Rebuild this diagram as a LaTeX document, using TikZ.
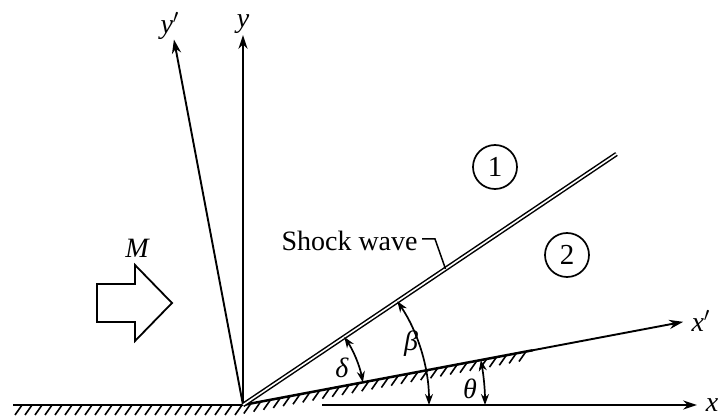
\documentclass[tikz,border=0pt]{standalone}
\usepackage{fontspec}
\setmainfont{Liberation Serif}
\usetikzlibrary{arrows.meta,calc}
\begin{document}
\begin{tikzpicture}[x=0.5pt,y=0.5pt,
  axis/.style={line width=0.95pt,-{Stealth[length=7pt,width=4.6pt]}},
  angarrow/.style={line width=0.85pt,{Stealth[length=5.5pt,width=4pt]}-{Stealth[length=5.5pt,width=4pt]}},
  ground/.style={line width=1.25pt},
  hatch/.style={line width=0.8pt},
  lbl/.style={font=\fontsize{14}{16}\selectfont\itshape, inner sep=0pt},
  num/.style={circle, draw, line width=0.85pt, minimum size=22pt, inner sep=0pt, font=\fontsize{14.5}{16}\selectfont},
  shock/.style={draw=black, double=white, line width=0.75pt, double distance=0.8pt},
  txt/.style={font=\fontsize{14}{16}\selectfont, inner sep=0pt}
]
\useasboundingbox (0,0) rectangle (719,418);
\coordinate (O) at (243,13);
% ground left
\coordinate (GL) at (13,13);
\draw[ground] (GL) -- (O);
\foreach \i in {0,...,22} \draw[hatch] (22+10*\i,13) -- ++(-7,-10);
% wedge
\coordinate (WE) at ($(O)+(10.7:295)$);
\draw[ground] (O) -- (WE);
\foreach \s in {8,18,...,290} \draw[hatch] ($(O)+(10.7:\s)$) -- ++(-7,-10);
% axes
\coordinate (XS) at (322,13);
\coordinate (XE) at (697,13);
\draw[axis] (XS) -- (XE);
\node[lbl] (xl) at (712,13) {x};
\coordinate (XPE) at ($(O)+(10.7:448)$);
\draw[axis] (WE) -- (XPE);
\node[lbl] (xpl) at (701,97) {x$'$};
\coordinate (YE) at (243,383);
\draw[axis] (O) -- (YE);
\node[lbl] (yl) at (243,394) {y};
\coordinate (YPE) at ($(O)+(100.7:372)$);
\draw[axis] (O) -- (YPE);
\node[lbl] (ypl) at (170,392) {y$'$};
% shock
\coordinate (SE) at ($(O)+(33.9:450)$);
\draw[shock] (O) -- (SE);
\coordinate (SP) at ($(O)+(33.9:244)$);
\node[txt, anchor=base east] (sw) at (418,167) {Shock wave};
\coordinate (L1) at (422,179);
\coordinate (L2) at (435,179);
\draw[line width=0.75pt] (L1) -- (L2) -- (SP);
% regions
\node[num] (r1) at (495,251) {1};
\node[num] (r2) at (567,163) {2};
% flow arrow
\draw[line width=0.9pt] (97,134) -- (135,134) -- (135,153) -- (172,115) -- (135,77) -- (135,96) -- (97,96) -- cycle;
\node[lbl] (ml) at (137,170) {M};
% angles
\draw[angarrow] ($(O)+(10.7:122)$) arc[start angle=10.7, end angle=33.9, radius=61pt];
\node[lbl] (dl) at (342,50) {δ};
\draw[angarrow] ($(O)+(0:186)$) arc[start angle=0, end angle=33.9, radius=93pt];
\node[lbl] (bl) at (411,74) {β};
\draw[angarrow] ($(O)+(0:242)$) arc[start angle=0, end angle=10.7, radius=121pt];
\node[lbl] (tl) at (470,29) {θ};
\end{tikzpicture}
\end{document}
